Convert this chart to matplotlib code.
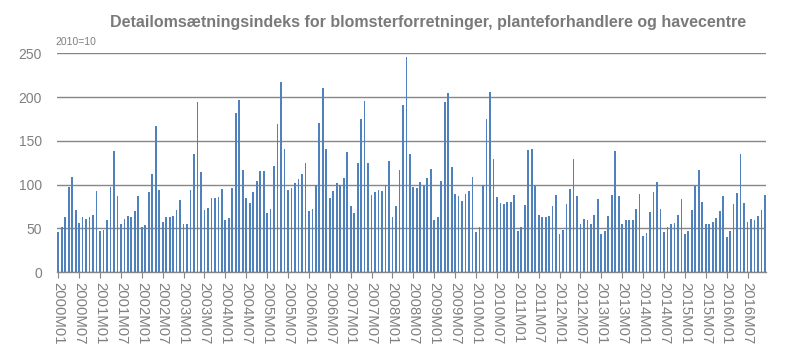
import numpy as np
import matplotlib
matplotlib.use("Agg")
import matplotlib.pyplot as plt

# monthly index values, 2000M01 .. 2016M12 (2010=100)
values_2000 = [46, 52, 63, 97, 109, 71, 56, 63, 61, 63, 65, 93]
values_2001 = [47, 48, 59, 97, 138, 87, 55, 61, 64, 63, 70, 87]
values_2002 = [52, 54, 92, 112, 167, 94, 57, 63, 63, 64, 71, 82]
values_2003 = [55, 55, 94, 135, 194, 114, 71, 73, 85, 85, 86, 95]
values_2004 = [60, 62, 96, 182, 197, 117, 85, 79, 92, 104, 116, 116]
values_2005 = [67, 72, 121, 169, 217, 141, 94, 96, 102, 106, 112, 125]
values_2006 = [70, 72, 100, 170, 210, 141, 85, 93, 102, 100, 108, 137]
values_2007 = [75, 67, 125, 175, 195, 125, 88, 92, 94, 93, 100, 127]
values_2008 = [63, 75, 117, 191, 246, 135, 97, 96, 103, 98, 108, 118]
values_2009 = [60, 63, 104, 194, 205, 120, 89, 87, 81, 89, 93, 109]
values_2010 = [46, 51, 100, 175, 206, 129, 86, 79, 78, 80, 80, 88]
values_2011 = [47, 51, 77, 140, 141, 98, 65, 63, 63, 64, 75, 88]
values_2012 = [44, 48, 78, 95, 129, 87, 55, 61, 59, 55, 65, 83]
values_2013 = [44, 47, 64, 88, 138, 87, 55, 60, 60, 59, 72, 89]
values_2014 = [41, 45, 69, 92, 103, 72, 46, 52, 55, 56, 65, 83]
values_2015 = [44, 47, 71, 98, 117, 80, 55, 55, 57, 62, 70, 87]
values_2016 = [40, 47, 78, 90, 135, 79, 57, 61, 59, 64, 71, 88]

years = list(range(2000, 2017))
yearly = [values_2000, values_2001, values_2002, values_2003, values_2004,
          values_2005, values_2006, values_2007, values_2008, values_2009,
          values_2010, values_2011, values_2012, values_2013, values_2014,
          values_2015, values_2016]

months = [f"{y}M{m:02d}" for y in years for m in range(1, 13)]
values = [v for year in yearly for v in year]

GRAY = "#808080"
GRID = "#878787"
BLUE = "#4F81BD"

plt.rcParams["font.family"] = ["Liberation Sans", "DejaVu Sans"]

fig = plt.figure(figsize = (8, 3.58), dpi = 100)
ax = fig.add_axes([0.0715, 0.240, 0.886, 0.611])

x = np.arange(len(values))
ax.bar(x, values, width = 0.5, color = BLUE, zorder = 3)

ax.set_ylim(0, 250)
ax.set_xlim(-0.3, len(values) - 0.7)
ax.set_yticks(range(0, 251, 50))
ax.yaxis.grid(True, color = GRID, linewidth = 1.0, zorder = 0)
ax.set_axisbelow(True)

tick_pos = x[::6]
ax.set_xticks(tick_pos)
ax.set_xticklabels([months[i] for i in tick_pos], rotation = -90)

for side in ["left", "right", "top"]:
    ax.spines[side].set_visible(False)
ax.spines["bottom"].set_color(GRID)
ax.spines["bottom"].set_linewidth(1.0)
ax.spines["bottom"].set_zorder(4)

ax.tick_params(axis = "x", length = 4, color = GRID, labelcolor = GRAY,
               labelsize = 10.7, pad = 3)
ax.tick_params(axis = "y", length = 0, labelcolor = GRAY, labelsize = 10, pad = 11)

fig.text(0.535, 0.937,
         "Detailomsætningsindeks for blomsterforretninger, planteforhandlere og havecentre",
         ha = "center", va = "center", fontsize = 11.5, fontweight = "bold",
         color = "#7a7a7a")
fig.text(0.069, 0.884, "2010=10", ha = "left", va = "center", fontsize = 7.5,
         color = GRAY)

plt.savefig("out.png", dpi = 100)
plt.close()
